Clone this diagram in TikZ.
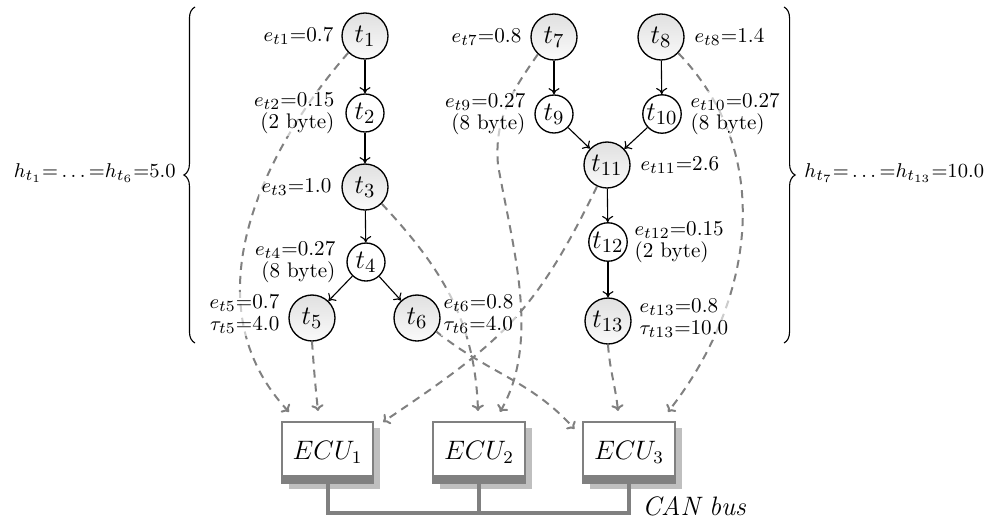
\documentclass[tikz,border=0pt]{standalone}
\usetikzlibrary{arrows.meta,decorations.pathreplacing,shadows,calc}
\begin{document}
\begin{tikzpicture}[x=0.45pt,y=0.45pt,
  big/.style={circle,draw,line width=0.6pt,minimum size=20.7pt,inner sep=0.3pt,
    top color=gray!24,bottom color=gray!4,font=\fontsize{13}{15}\selectfont},
  small/.style={circle,draw,line width=0.6pt,minimum size=17.1pt,inner sep=0.2pt,
    fill=white,font=\fontsize{13}{15}\selectfont},
  lab/.style={font=\fontsize{9.5}{10}\selectfont,inner sep=1pt,
    fill=white,fill opacity=0.6,text opacity=1},
  labL/.style={lab,anchor=east,align=right},
  labR/.style={lab,anchor=west,align=left},
  dep/.style={line width=0.5pt,-{To[length=2.8pt,width=5pt]}},
  map/.style={draw=gray,line width=0.9pt,dash pattern=on 3.6pt off 2.7pt,
    -{To[length=2.8pt,width=5.5pt]}},
  ecu/.style={draw=gray,line width=0.9pt,fill=white,minimum width=41pt,
    minimum height=27.5pt,inner sep=0pt,font=\large,
    general shadow={fill=gray!50,shadow xshift=3.15pt,shadow yshift=-2.7pt},
    path picture={\fill[gray] (path picture bounding box.south west) rectangle
      ($(path picture bounding box.south east)+(0,3.6pt)$);}},
  bus/.style={draw=gray,line width=1.8pt},
  brc/.style={decorate,decoration={brace,amplitude=5pt},line width=0.5pt},
  period/.style={inner sep=0pt,font=\fontsize{9.3}{11}\selectfont}]
\useasboundingbox (0,0) rectangle (991,525);

% task nodes
\node[big]   (t1)  at (365,489) {$t_1$};
\node[small] (t2)  at (365,412) {$t_2$};
\node[big]   (t3)  at (365,338) {$t_3$};
\node[small] (t4)  at (366,263) {$t_4$};
\node[big]   (t5)  at (312,207) {$t_5$};
\node[big]   (t6)  at (417,207) {$t_6$};
\node[big]   (t7)  at (554,488) {$t_7$};
\node[big]   (t8)  at (661,488) {$t_8$};
\node[small] (t9)  at (554,411) {$t_9$};
\node[small] (t10) at (662,411) {$t_{10}$};
\node[big]   (t11) at (607,360) {$t_{11}$};
\node[small] (t12) at (608,283) {$t_{12}$};
\node[big]   (t13) at (608,204) {$t_{13}$};

% ECUs
\node[ecu] (e1) at (327.5,72.5) {$ECU_1$};
\node[ecu] (e2) at (479,72.5)   {$ECU_2$};
\node[ecu] (e3) at (629,72.5)   {$ECU_3$};

% arrow ends above the ECUs
\coordinate (a1) at ([shift={(-38.5,9)}]e1.north);
\coordinate (a2) at ([shift={(-9.5,10)}]e1.north);
\coordinate (a3) at ([shift={(9,-1)}]e1.north east);
\coordinate (a4) at ([shift={(-1,10)}]e2.north);
\coordinate (a5) at ([shift={(21,9)}]e2.north);
\coordinate (a6) at ([shift={(-8,-8)}]e3.north west);
\coordinate (a7) at ([shift={(-11,10)}]e3.north);
\coordinate (a8) at ([shift={(39,9)}]e3.north);
\coordinate (v5) at (498,360);

% task-to-ECU mapping
\draw[map] (t1.225) to[out=229,in=133] (a1);
\draw[map] (t5.south) to[out=-86,in=96] (a2);
\draw[map] (t11.245) to[out=244,in=34,looseness=1.15] (a3);
\draw[map] (t3.-45) to[out=-47,in=92] (a4);
\draw[map] (t7.227) to[out=235,in=95] (v5) to[out=-80,in=60,looseness=0.85] (a5);
\draw[map] (t6.-35) to[out=-39,in=132] (a6);
\draw[map] (t13.south) to[out=-86,in=96] (a7);
\draw[map] (t8.-43) to[out=-46,in=52] (a8);

% labels
\node[labL] (l1)  at (336,489) {$e_{t1}$=0.7};
\node[labL] (l2)  at (337,412) {$e_{t2}$=0.15\\(2 byte)};
\node[labL] (l3)  at (334,338) {$e_{t3}$=1.0};
\node[labL] (l4)  at (338,263) {$e_{t4}$=0.27\\(8 byte)};
\node[labL] (l5)  at (282,211) {$e_{t5}$=0.7\\$\tau_{t5}$=4.0};
\node[labR] (l6)  at (441,211) {$e_{t6}$=0.8\\$\tau_{t6}$=4.0};
\node[labL] (l7)  at (524,488) {$e_{t7}$=0.8};
\node[labR] (l8)  at (692,488) {$e_{t8}$=1.4};
\node[labL] (l9)  at (528,411) {$e_{t9}$=0.27\\(8 byte)};
\node[labR] (l10) at (688,411) {$e_{t10}$=0.27\\(8 byte)};
\node[labR] (l11) at (638,360) {$e_{t11}$=2.6};
\node[labR] (l12) at (632,283) {$e_{t12}$=0.15\\(2 byte)};
\node[labR] (l13) at (637,207) {$e_{t13}$=0.8\\$\tau_{t13}$=10.0};

% precedence edges
\draw[dep] (t1) -- (t2);
\draw[dep] (t2) -- (t3);
\draw[dep] (t3) -- (t4);
\draw[dep] (t4) -- (t5);
\draw[dep] (t4) -- (t6);
\draw[dep] (t7) -- (t9);
\draw[dep] (t8) -- (t10);
\draw[dep] (t9) -- (t11);
\draw[dep] (t10) -- (t11);
\draw[dep] (t11) -- (t12);
\draw[dep] (t12) -- (t13);

% CAN bus
\coordinate (busy) at (0,12);
\draw[bus] (e1.south) |- (e3.south |- busy) -- (e3.south);
\draw[bus] (e2.south) -- (e2.south |- busy);
\node[anchor=base west,inner sep=0pt,font=\large\itshape] (can) at (642,10) {CAN bus};

% period braces
\draw[brc] (195,182) -- (195,518);
\draw[brc] (784,518) -- (784,182);
\node[period,anchor=east] (h1) at (176,352) {$h_{t_1}{=}\ldots{=}h_{t_6}{=}5.0$};
\node[period,anchor=west] (h2) at (804,352) {$h_{t_7}{=}\ldots{=}h_{t_{13}}{=}10.0$};
\end{tikzpicture}
\end{document}
